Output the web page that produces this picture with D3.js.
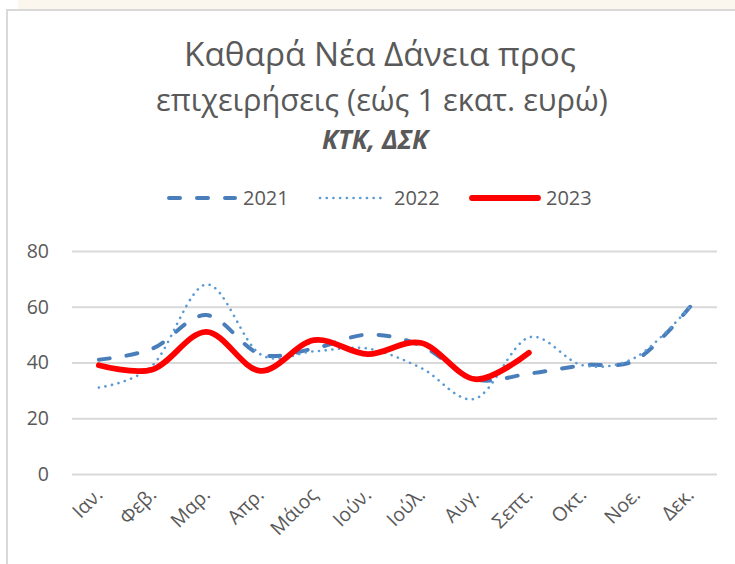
<!DOCTYPE html>
<html>
<head>
<meta charset="utf-8">
<script src="https://cdn.jsdelivr.net/npm/d3@7"></script>
<style>
  html, body { margin: 0; padding: 0; background: #ffffff; }
  svg { display: block; }
  text { font-family: "Open Sans", "Noto Sans", sans-serif; fill: #595959; }
</style>
</head>
<body>
<svg id="chart" width="735" height="564"></svg>
<script>
// ---- data ----
const months = ["Ιαν.", "Φεβ.", "Μαρ.", "Απρ.", "Μάιος", "Ιούν.", "Ιούλ.", "Αυγ.", "Σεπτ.", "Οκτ.", "Νοε.", "Δεκ."];
const values2021 = [41, 45, 57, 43, 45, 50, 46, 34, 36, 39, 41, 60];
const values2022 = [31, 39, 68, 43, 44, 45, 38, 27, 49, 39, 42, 60];
const values2023 = [39, 37.5, 51, 37, 48, 43, 47, 34, 43.5];
const seriesNames = ["2021", "2022", "2023"];
const yTicks = [0, 20, 40, 60, 80];
const titleLines = ["Καθαρά Νέα Δάνεια προς", "επιχειρήσεις (εώς 1 εκατ. ευρώ)"];
const subtitle = "ΚΤΚ, ΔΣΚ";

const svg = d3.select("#chart");
const W = 735, H = 564;

// background band and frame
svg.append("rect").attr("x", 18).attr("y", 0).attr("width", W - 18).attr("height", 9).attr("fill", "#fbf6ee");
svg.append("line").attr("x1", 6).attr("x2", W).attr("y1", 10).attr("y2", 10).attr("stroke", "#d9d9d9").attr("stroke-width", 2);
svg.append("line").attr("x1", 7).attr("x2", 7).attr("y1", 10).attr("y2", H).attr("stroke", "#d9d9d9").attr("stroke-width", 2);

// scales
const x = d3.scaleBand().domain(months).range([72, 717]);
const y = d3.scaleLinear().domain([0, 80]).range([474, 251]);
const cx = m => x(m) + x.bandwidth() / 2;

// title
function fitText(sel, targetWidth) {
  const fs = parseFloat(sel.attr("font-size"));
  const w = sel.node().getComputedTextLength();
  sel.attr("font-size", fs * targetWidth / w);
}
const t1 = svg.append("text").attr("x", 380).attr("y", 66).attr("text-anchor", "middle")
  .attr("font-size", 27).text(titleLines[0]);
fitText(t1, 392);
const t2 = svg.append("text").attr("x", 382).attr("y", 111).attr("text-anchor", "middle")
  .attr("font-size", 27).text(titleLines[1]);
fitText(t2, 452);
const st = svg.append("text").attr("x", 375).attr("y", 149).attr("text-anchor", "middle")
  .attr("font-size", 20).attr("font-weight", "bold").attr("font-style", "italic").text(subtitle);
fitText(st, 106);

// gridlines
const yAxis = d3.axisLeft(y).tickValues(yTicks).tickSize(-(717 - 72)).tickPadding(23);
const gy = svg.append("g").attr("transform", "translate(72,0)").call(yAxis);
gy.select(".domain").remove();
gy.selectAll(".tick line").attr("stroke", "#d9d9d9").attr("stroke-width", 2);
gy.selectAll(".tick text").attr("font-size", 19.5).attr("fill", "#595959")
  .style("font-family", "'Open Sans', sans-serif");

// x axis labels
const xAxis = d3.axisBottom(x).tickSize(0).tickPadding(0);
const gx = svg.append("g").attr("transform", "translate(0,474)").call(xAxis);
gx.select(".domain").remove();
gx.selectAll(".tick text")
  .attr("font-size", 19.5).attr("fill", "#595959")
  .style("font-family", "'Open Sans', sans-serif")
  .attr("text-anchor", "end")
  .attr("dy", 0)
  .attr("transform", "translate(5,22) rotate(-45)");

// lines
const lineGen = d3.line()
  .x((d, i) => cx(months[i]))
  .y(d => y(d))
  .curve(d3.curveCatmullRom.alpha(0));

const styles = [
  { data: values2021, color: "#4a7ebb", width: 4, dash: "11,17", cap: "round" },
  { data: values2022, color: "#5b9bd5", width: 2.6, dash: "0.1,6.6", cap: "round" },
  { data: values2023, color: "#ff0000", width: 5.8, dash: null, cap: "round" }
];
styles.forEach(s => {
  svg.append("path").datum(s.data)
    .attr("d", lineGen)
    .attr("fill", "none")
    .attr("stroke", s.color)
    .attr("stroke-width", s.width)
    .attr("stroke-linecap", s.cap)
    .attr("stroke-linejoin", "round")
    .attr("stroke-dasharray", s.dash);
});

// legend
const legendX = [167, 318, 470];
const legend = svg.append("g");
styles.forEach((s, i) => {
  legend.append("line")
    .attr("x1", legendX[i] + 2).attr("x2", legendX[i] + 68)
    .attr("y1", 198).attr("y2", 198)
    .attr("stroke", s.color).attr("stroke-width", s.width)
    .attr("stroke-linecap", s.cap)
    .attr("stroke-dasharray", s.dash);
  legend.append("text")
    .attr("x", legendX[i] + 76).attr("y", 205)
    .attr("font-size", 20).text(seriesNames[i]);
});
</script>
</body>
</html>
